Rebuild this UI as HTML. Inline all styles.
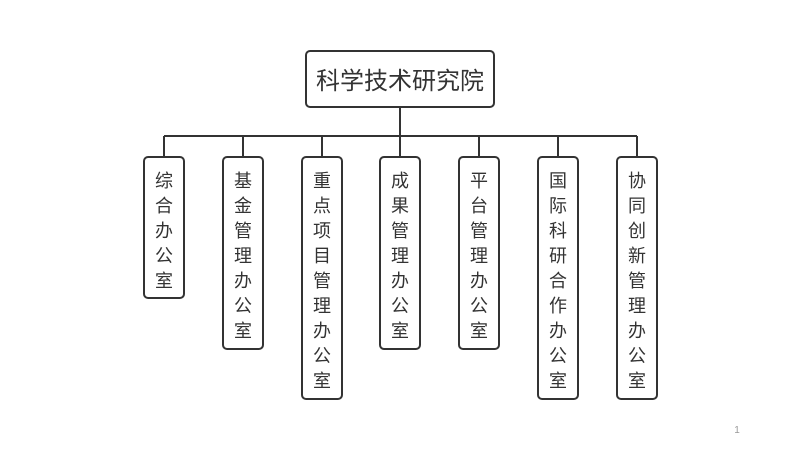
<!DOCTYPE html>
<html><head><meta charset="utf-8"><style>
body{margin:0;background:#fff;}
svg{display:block}
text{font-family:"Liberation Sans","Noto Sans CJK SC",sans-serif;fill:#333;}
</style></head><body>
<svg width="800" height="450" xmlns="http://www.w3.org/2000/svg">
<g stroke="#333" stroke-width="2" fill="none">
<rect x="306" y="51" width="188" height="56" rx="4" fill="#fff"/>
<line x1="400" y1="107" x2="400" y2="136"/>
<line x1="164" y1="136" x2="637" y2="136"/>
<line x1="164" y1="136" x2="164" y2="157"/>
<line x1="243" y1="136" x2="243" y2="157"/>
<line x1="322" y1="136" x2="322" y2="157"/>
<line x1="400" y1="136" x2="400" y2="157"/>
<line x1="479" y1="136" x2="479" y2="157"/>
<line x1="558" y1="136" x2="558" y2="157"/>
<line x1="637" y1="136" x2="637" y2="157"/>
<rect x="144" y="157" width="40" height="141" rx="4"/>
<rect x="223" y="157" width="40" height="192" rx="4"/>
<rect x="302" y="157" width="40" height="242" rx="4"/>
<rect x="380" y="157" width="40" height="192" rx="4"/>
<rect x="459" y="157" width="40" height="192" rx="4"/>
<rect x="538" y="157" width="40" height="242" rx="4"/>
<rect x="617" y="157" width="40" height="242" rx="4"/>
</g>
<text x="400" y="89" font-size="24" text-anchor="middle">科学技术研究院</text>
<g font-size="18" text-anchor="middle">
<text x="164" y="187"><tspan x="164">综</tspan><tspan x="164" dy="25">合</tspan><tspan x="164" dy="25">办</tspan><tspan x="164" dy="25">公</tspan><tspan x="164" dy="25">室</tspan></text>
<text x="243" y="187"><tspan x="243">基</tspan><tspan x="243" dy="25">金</tspan><tspan x="243" dy="25">管</tspan><tspan x="243" dy="25">理</tspan><tspan x="243" dy="25">办</tspan><tspan x="243" dy="25">公</tspan><tspan x="243" dy="25">室</tspan></text>
<text x="322" y="187"><tspan x="322">重</tspan><tspan x="322" dy="25">点</tspan><tspan x="322" dy="25">项</tspan><tspan x="322" dy="25">目</tspan><tspan x="322" dy="25">管</tspan><tspan x="322" dy="25">理</tspan><tspan x="322" dy="25">办</tspan><tspan x="322" dy="25">公</tspan><tspan x="322" dy="25">室</tspan></text>
<text x="400" y="187"><tspan x="400">成</tspan><tspan x="400" dy="25">果</tspan><tspan x="400" dy="25">管</tspan><tspan x="400" dy="25">理</tspan><tspan x="400" dy="25">办</tspan><tspan x="400" dy="25">公</tspan><tspan x="400" dy="25">室</tspan></text>
<text x="479" y="187"><tspan x="479">平</tspan><tspan x="479" dy="25">台</tspan><tspan x="479" dy="25">管</tspan><tspan x="479" dy="25">理</tspan><tspan x="479" dy="25">办</tspan><tspan x="479" dy="25">公</tspan><tspan x="479" dy="25">室</tspan></text>
<text x="558" y="187"><tspan x="558">国</tspan><tspan x="558" dy="25">际</tspan><tspan x="558" dy="25">科</tspan><tspan x="558" dy="25">研</tspan><tspan x="558" dy="25">合</tspan><tspan x="558" dy="25">作</tspan><tspan x="558" dy="25">办</tspan><tspan x="558" dy="25">公</tspan><tspan x="558" dy="25">室</tspan></text>
<text x="637" y="187"><tspan x="637">协</tspan><tspan x="637" dy="25">同</tspan><tspan x="637" dy="25">创</tspan><tspan x="637" dy="25">新</tspan><tspan x="637" dy="25">管</tspan><tspan x="637" dy="25">理</tspan><tspan x="637" dy="25">办</tspan><tspan x="637" dy="25">公</tspan><tspan x="637" dy="25">室</tspan></text>
</g>
<text x="737" y="433" font-size="10" text-anchor="middle" style="fill:#999">1</text>
</svg>
</body></html>
